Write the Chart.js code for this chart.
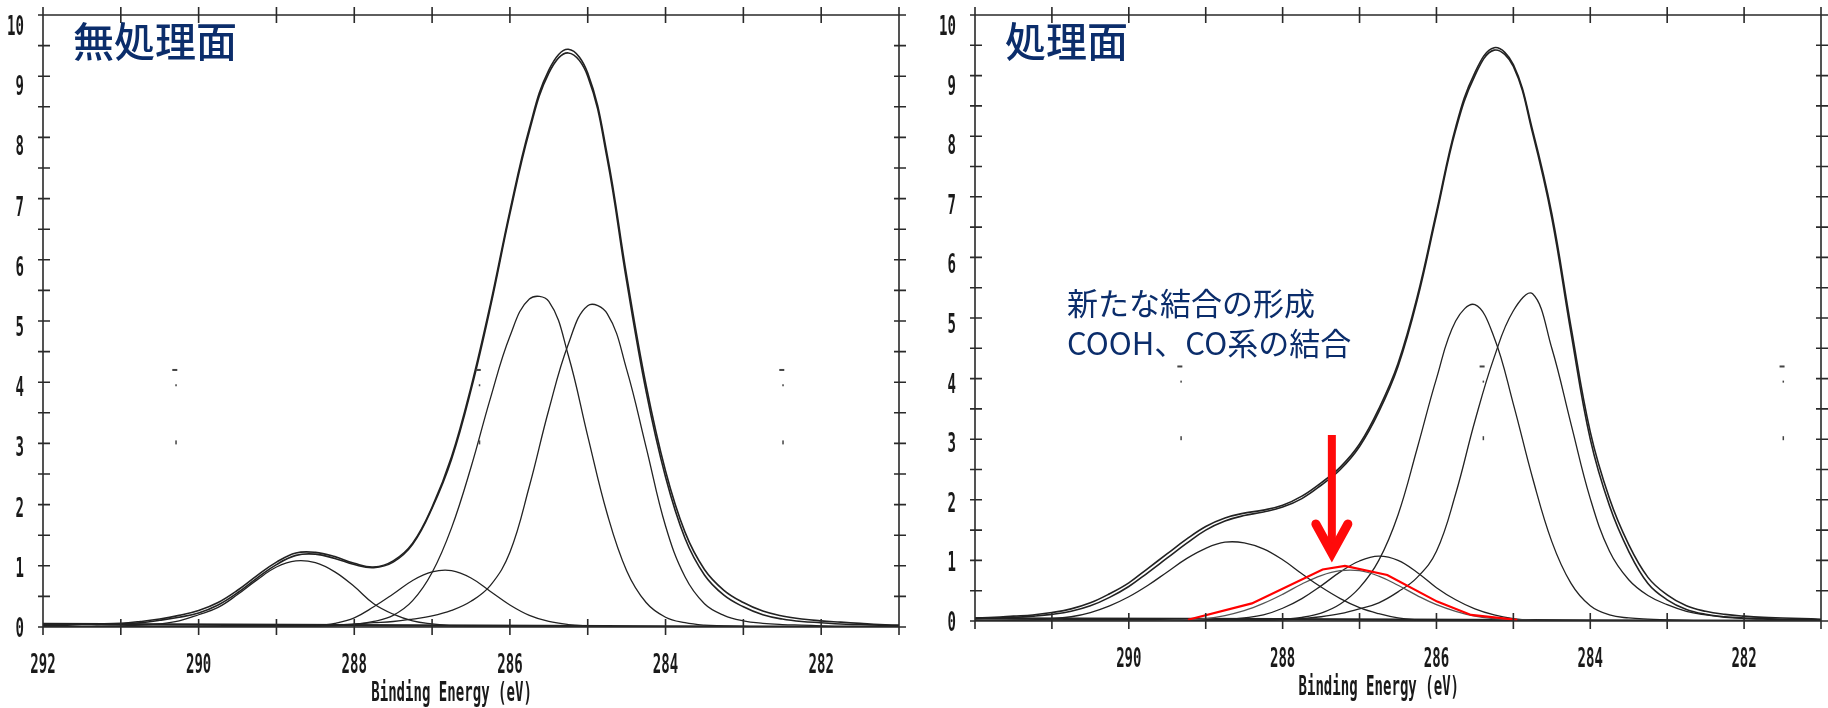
<!DOCTYPE html>
<html lang="ja">
<head>
<meta charset="utf-8">
<title>C1s XPS 無処理面 / 処理面</title>
<script src="https://cdn.jsdelivr.net/npm/chart.js@4.4.1/dist/chart.umd.min.js"></script>
<style>
  html, body { margin: 0; padding: 0; background: #ffffff; }
  #wrap { position: relative; width: 1828px; height: 708px; }
  .pane { position: absolute; top: 0; width: 914px; height: 708px; }
  #paneLeft { left: 0; }
  #paneRight { left: 914px; }
</style>
</head>
<body>
<div id="wrap">
  <div class="pane" id="paneLeft"><canvas id="chartLeft"></canvas></div>
  <div class="pane" id="paneRight"><canvas id="chartRight"></canvas></div>
</div>
<script>
// Binding energy grid (eV), shared by every curve
const energy = [
  292.00, 291.75, 291.50, 291.25, 291.00, 290.75, 290.50, 290.25, 290.00, 289.75,
  289.50, 289.25, 289.00, 288.75, 288.50, 288.25, 288.00, 287.75, 287.50, 287.25,
  287.00, 286.75, 286.50, 286.25, 286.00, 285.75, 285.50, 285.25, 285.00, 284.75,
  284.50, 284.25, 284.00, 283.75, 283.50, 283.25, 283.00, 282.75, 282.50, 282.25,
  282.00, 281.75, 281.50, 281.25, 281.00
];

// --- untreated surface (無処理面) ---
const leftRaw = [
  0.04, 0.04, 0.05, 0.05, 0.06, 0.09, 0.13, 0.19, 0.27, 0.40,
  0.60, 0.84, 1.06, 1.21, 1.22, 1.15, 1.04, 0.98, 1.08, 1.37,
  1.96, 2.78, 3.92, 5.28, 6.80, 8.15, 9.10, 9.44, 9.05, 7.72,
  5.74, 3.95, 2.55, 1.55, 0.94, 0.60, 0.40, 0.26, 0.18, 0.13,
  0.10, 0.08, 0.06, 0.04, 0.03
];
const leftFit = [
  0.03, 0.03, 0.04, 0.04, 0.05, 0.07, 0.11, 0.16, 0.23, 0.36,
  0.56, 0.80, 1.02, 1.17, 1.19, 1.12, 1.02, 0.97, 1.06, 1.35,
  1.94, 2.74, 3.87, 5.23, 6.75, 8.10, 9.05, 9.38, 9.00, 7.65,
  5.65, 3.85, 2.45, 1.45, 0.85, 0.52, 0.33, 0.20, 0.13, 0.09,
  0.07, 0.05, 0.04, 0.03, 0.02
];
const leftPeak1 = [
  0, 0, 0, 0, 0, 0, 0, 0, 0, 0,
  0, 0, 0, 0.01, 0.02, 0.03, 0.05, 0.07, 0.09, 0.13,
  0.18, 0.27, 0.42, 0.68, 1.22, 2.30, 3.55, 4.62, 5.25, 5.12,
  4.21, 2.94, 1.65, 0.82, 0.38, 0.19, 0.10, 0.06, 0.04, 0.03,
  0.02, 0.01, 0.01, 0, 0
];
const leftPeak2 = [
  0, 0, 0, 0, 0, 0, 0, 0, 0, 0,
  0, 0, 0, 0, 0.01, 0.02, 0.04, 0.09, 0.19, 0.43,
  0.89, 1.62, 2.61, 3.74, 4.75, 5.36, 5.32, 4.44, 3.12, 1.85,
  0.92, 0.40, 0.16, 0.07, 0.03, 0.02, 0.01, 0, 0, 0,
  0, 0, 0, 0, 0
];
const leftPeak3 = [
  0, 0, 0, 0, 0, 0, 0, 0, 0, 0,
  0, 0, 0, 0.01, 0.02, 0.06, 0.15, 0.33, 0.54, 0.76,
  0.90, 0.92, 0.80, 0.58, 0.36, 0.19, 0.09, 0.04, 0.02, 0.01,
  0, 0, 0, 0, 0, 0, 0, 0, 0, 0,
  0, 0, 0, 0, 0
];
const leftPeak4 = [
  0, 0, 0, 0.01, 0.02, 0.03, 0.05, 0.10, 0.20, 0.32,
  0.53, 0.77, 0.98, 1.08, 1.05, 0.90, 0.66, 0.38, 0.21, 0.10,
  0.05, 0.02, 0.01, 0, 0, 0, 0, 0, 0, 0,
  0, 0, 0, 0, 0, 0, 0, 0, 0, 0,
  0, 0, 0, 0, 0
];

// --- treated surface (処理面) ---
const rightRaw = [
  0.05, 0.06, 0.08, 0.10, 0.14, 0.20, 0.30, 0.45, 0.63, 0.87,
  1.11, 1.35, 1.56, 1.70, 1.78, 1.83, 1.91, 2.06, 2.28, 2.54,
  2.92, 3.50, 4.25, 5.35, 6.75, 8.15, 9.05, 9.46, 9.18, 8.10,
  6.72, 4.85, 3.12, 2.02, 1.26, 0.72, 0.43, 0.25, 0.16, 0.11,
  0.08, 0.06, 0.05, 0.04, 0.03
];
const rightFit = [
  0.04, 0.05, 0.06, 0.08, 0.11, 0.16, 0.25, 0.39, 0.57, 0.80,
  1.04, 1.28, 1.50, 1.65, 1.74, 1.80, 1.88, 2.02, 2.24, 2.50,
  2.88, 3.45, 4.20, 5.30, 6.70, 8.10, 9.00, 9.42, 9.15, 8.05,
  6.65, 4.75, 3.00, 1.90, 1.15, 0.62, 0.35, 0.19, 0.11, 0.07,
  0.05, 0.04, 0.03, 0.03, 0.02
];
const rightPeakA = [
  0, 0, 0.01, 0.02, 0.04, 0.07, 0.14, 0.25, 0.40, 0.59,
  0.81, 1.03, 1.20, 1.30, 1.29, 1.19, 1.01, 0.78, 0.56, 0.37,
  0.22, 0.12, 0.05, 0.02, 0.01, 0, 0, 0, 0, 0,
  0, 0, 0, 0, 0, 0, 0, 0, 0, 0,
  0, 0, 0, 0, 0
];
const rightPeakB = [
  0, 0, 0, 0, 0, 0, 0, 0, 0, 0,
  0.01, 0.02, 0.04, 0.09, 0.17, 0.29, 0.44, 0.61, 0.75, 0.83,
  0.83, 0.74, 0.59, 0.42, 0.27, 0.16, 0.08, 0.04, 0.02, 0.01,
  0, 0, 0, 0, 0, 0, 0, 0, 0, 0,
  0, 0, 0, 0, 0
];
const rightPeakC = [
  0, 0, 0, 0, 0, 0, 0, 0, 0, 0,
  0, 0, 0, 0.02, 0.05, 0.10, 0.21, 0.37, 0.58, 0.81,
  0.99, 1.07, 1.00, 0.80, 0.55, 0.35, 0.20, 0.10, 0.04, 0.01,
  0, 0, 0, 0, 0, 0, 0, 0, 0, 0,
  0, 0, 0, 0, 0
];
const rightPeakD = [
  0, 0, 0, 0, 0, 0, 0, 0, 0, 0,
  0, 0, 0, 0, 0, 0.01, 0.03, 0.06, 0.13, 0.28,
  0.55, 1.00, 1.75, 2.85, 4.00, 4.95, 5.22, 4.68, 3.58, 2.36,
  1.31, 0.62, 0.25, 0.10, 0.05, 0.03, 0.02, 0.01, 0, 0,
  0, 0, 0, 0, 0
];
const rightPeakE = [
  0, 0, 0, 0, 0, 0, 0, 0, 0, 0,
  0, 0, 0, 0, 0, 0.01, 0.02, 0.04, 0.07, 0.12,
  0.20, 0.30, 0.48, 0.72, 1.15, 2.10, 3.30, 4.35, 5.12, 5.40,
  4.50, 3.25, 2.02, 1.15, 0.68, 0.42, 0.27, 0.16, 0.10, 0.06,
  0.04, 0.03, 0.02, 0.01, 0.01
];

// hand-drawn red trace over the new component
const redEnergy = [289.23, 288.40, 287.48, 287.19, 286.64, 285.99, 285.55, 284.95];
const redValues = [0.02, 0.29, 0.85, 0.91, 0.76, 0.32, 0.10, 0.02];

// background (almost flat)
const bgEnergy = [292, 288, 284, 281];
const bgLeft = [0.05, 0.03, 0.01, 0];
const bgRight = [0.04, 0.03, 0.01, 0];

// axes
const xTicks = [292, 291, 290, 289, 288, 287, 286, 285, 284, 283, 282, 281];
const xLabelsLeft = [292, 290, 288, 286, 284, 282];
const xLabelsRight = [290, 288, 286, 284, 282];
const yTicks = [0, 0.5, 1, 1.5, 2, 2.5, 3, 3.5, 4, 4.5, 5, 5.5, 6, 6.5, 7, 7.5, 8, 8.5, 9, 9.5, 10];
const yLabels = [0, 1, 2, 3, 4, 5, 6, 7, 8, 9, 10];

// faint region markers left on the original print
const marksLeft = [290.3, 286.4, 282.5];
const marksRight = [289.33, 285.4, 281.5];
const markLevels = [4.2, 3.95, 3.0];

const NAVY = '#0b2d6b';
const INK = '#222222';

const toPoints = (xs, ys) => xs.map((e, i) => ({x: e, y: ys[i]}));

function curve(ys, width, color) {
  return {
    data: toPoints(energy, ys),
    borderColor: color || INK,
    borderWidth: width,
    pointRadius: 0,
    fill: false,
    tension: 0.4
  };
}

// Draw compressed text (old plotter look)
function narrowText(ctx, text, x, y, align) {
  ctx.save();
  ctx.translate(x, y);
  ctx.scale(0.52, 1);
  ctx.textAlign = align;
  ctx.textBaseline = 'alphabetic';
  ctx.fillText(text, 0, 0);
  ctx.restore();
}

const framePlugin = {
  id: 'xpsFrame',
  afterDatasetsDraw: (chart, args, opts) => {
    const {ctx, chartArea: {left, right, top, bottom}} = chart;
    const xs = chart.scales.x;
    const ys = chart.scales.y;

    ctx.save();
    ctx.strokeStyle = '#2a2a2a';
    ctx.lineWidth = 1.6;
    ctx.beginPath();
    ctx.rect(left, top, right - left, bottom - top);
    yTicks.forEach(v => {
      const py = ys.getPixelForValue(v);
      ctx.moveTo(left - 5, py);
      ctx.lineTo(left + 7, py);
      ctx.moveTo(right - 5, py);
      ctx.lineTo(right + 7, py);
    });
    xTicks.forEach(e => {
      const px = xs.getPixelForValue(e);
      ctx.moveTo(px, top - 8);
      ctx.lineTo(px, top + 8);
      ctx.moveTo(px, bottom - 8);
      ctx.lineTo(px, bottom + 8);
    });
    ctx.stroke();

    // small marks from the print
    ctx.fillStyle = '#444444';
    opts.marks.forEach(e => {
      const px = xs.getPixelForValue(e);
      ctx.fillRect(px - 3, ys.getPixelForValue(markLevels[0]) - 1, 5, 2);
      ctx.fillRect(px, ys.getPixelForValue(markLevels[1]) - 1, 1.5, 2);
      ctx.fillRect(px, ys.getPixelForValue(markLevels[2]) - 3, 1.5, 4);
    });

    // tick labels and axis title
    ctx.fillStyle = '#1a1a1a';
    ctx.font = 'bold 27px "DejaVu Sans Mono"';
    yLabels.forEach(v => {
      narrowText(ctx, String(v), left - 19, ys.getPixelForValue(v) + 10 + v, 'right');
    });
    opts.xLabels.forEach(e => {
      narrowText(ctx, String(e), xs.getPixelForValue(e), bottom + 46, 'center');
    });
    narrowText(ctx, 'Binding Energy (eV)', xs.getPixelForValue(286.75), bottom + 74, 'center');

    // panel title
    ctx.fillStyle = NAVY;
    ctx.textAlign = 'left';
    ctx.textBaseline = 'middle';
    ctx.font = '500 41px "Noto Sans CJK JP"';
    ctx.fillText(opts.panelTitle, left + 30, 41);

    if (opts.note) {
      ctx.font = '31px "Noto Sans CJK JP"';
      opts.note.forEach((line, i) => {
        ctx.fillText(line, left + 92, 303 + i * 40);
      });
    }

    // red arrow pointing at the new component
    if (opts.arrow) {
      const a = opts.arrow;
      const px = xs.getPixelForValue(a.energy);
      const tipY = ys.getPixelForValue(a.tip);
      const headY = ys.getPixelForValue(a.head);
      ctx.strokeStyle = '#ff0a0a';
      ctx.lineWidth = 8;
      ctx.lineCap = 'butt';
      ctx.beginPath();
      ctx.moveTo(px, ys.getPixelForValue(a.top));
      ctx.lineTo(px, tipY - 6);
      ctx.stroke();
      ctx.lineWidth = 9;
      ctx.lineCap = 'round';
      ctx.lineJoin = 'miter';
      ctx.beginPath();
      ctx.moveTo(px - 16, headY);
      ctx.lineTo(px, tipY);
      ctx.lineTo(px + 16, headY);
      ctx.stroke();
    }
    ctx.restore();
  }
};

function makeChart(canvasId, datasets, padding, pluginOpts) {
  return new Chart(document.getElementById(canvasId), {
    type: 'line',
    data: {datasets: datasets},
    options: {
      responsive: true,
      maintainAspectRatio: false,
      animation: false,
      layout: {padding: padding},
      plugins: {
        legend: {display: false},
        tooltip: {enabled: false},
        xpsFrame: pluginOpts
      },
      scales: {
        x: {type: 'linear', reverse: true, min: 281, max: 292, display: false},
        y: {type: 'linear', min: 0, max: 10, display: false}
      }
    },
    plugins: [framePlugin]
  });
}

makeChart('chartLeft', [
  curve(leftRaw, 1.6),
  curve(leftFit, 1.6),
  curve(leftPeak1, 1.3),
  curve(leftPeak2, 1.3),
  curve(leftPeak3, 1.3),
  curve(leftPeak4, 1.3),
  {data: toPoints(bgEnergy, bgLeft), borderColor: INK, borderWidth: 2.5, pointRadius: 0, tension: 0}
], {left: 43, right: 15, top: 15, bottom: 81}, {
  panelTitle: '無処理面',
  xLabels: xLabelsLeft,
  marks: marksLeft,
  note: null,
  arrow: null
});

makeChart('chartRight', [
  {data: toPoints(redEnergy, redValues), borderColor: '#ff0000', borderWidth: 2.2, pointRadius: 0, tension: 0},
  curve(rightRaw, 1.6),
  curve(rightFit, 1.6),
  curve(rightPeakA, 1.3),
  curve(rightPeakB, 1.3, '#555555'),
  curve(rightPeakC, 1.3),
  curve(rightPeakD, 1.3),
  curve(rightPeakE, 1.3),
  {data: toPoints(bgEnergy, bgRight), borderColor: INK, borderWidth: 2.5, pointRadius: 0, tension: 0}
], {left: 61, right: 7, top: 15, bottom: 87}, {
  panelTitle: '処理面',
  xLabels: xLabelsRight,
  marks: marksRight,
  note: ['新たな結合の形成', 'COOH、CO系の結合'],
  arrow: {energy: 287.36, top: 3.07, tip: 1.12, head: 1.6}
});
</script>
</body>
</html>
